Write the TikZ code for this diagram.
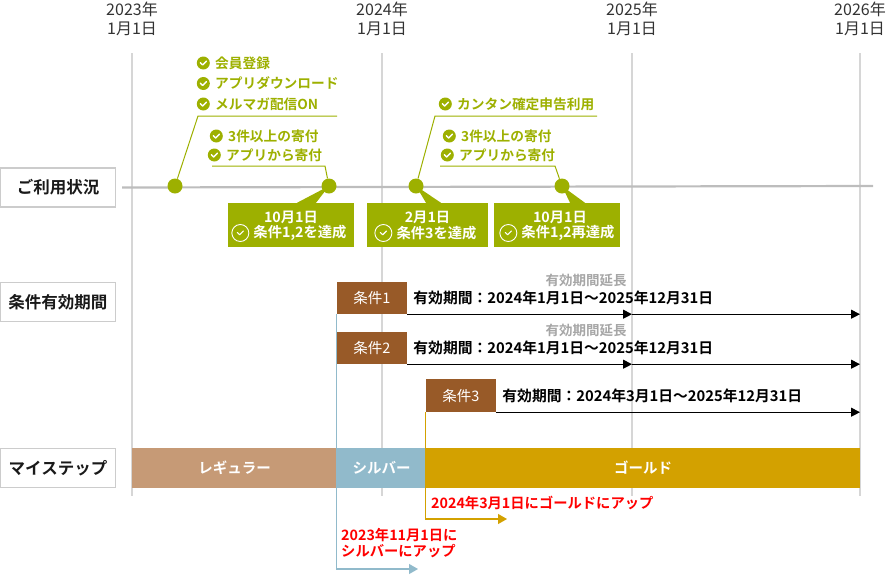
\documentclass[tikz,border=0pt]{standalone}
\usepackage{fontspec}
\setmainfont{Noto Sans CJK JP}[BoldFont={Noto Sans CJK JP Bold}]
\usetikzlibrary{positioning,arrows.meta}

\definecolor{ugreen}{HTML}{9DB000}
\definecolor{vgrey}{HTML}{D6D6D6}
\definecolor{tgrey}{HTML}{BDBDBD}
\definecolor{cbrown}{HTML}{985A28}
\definecolor{sreg}{HTML}{C69A76}
\definecolor{ssilver}{HTML}{91BACB}
\definecolor{sgold}{HTML}{D3A100}
\definecolor{upred}{HTML}{FF0000}

\tikzset{
  rowlabel/.style={draw=black!20, line width=1.2pt, minimum width=115, minimum height=39,
    inner sep=0pt, text=black!90, font=\bfseries\fontsize{16.5}{16.5}\selectfont},
  year/.style={align=center, text=black!80, font=\fontsize{16}{19}\selectfont},
  vline/.style={draw=vgrey, line width=2pt},
  tline/.style={draw=tgrey, line width=2.2pt},
  dot/.style={circle, fill=ugreen, inner sep=0pt, minimum size=15pt},
  callout/.style={draw=ugreen, line width=1pt},
  item/.style={anchor=west, inner sep=0pt, text=ugreen, font=\bfseries\fontsize{13.7}{13.7}\selectfont},
  chk/.style={circle, fill=ugreen, inner sep=0pt, minimum size=13pt,
    path picture={\draw[white, line width=1.4pt, line cap=round, line join=round]
      ([xshift=-3pt,yshift=0.3pt]path picture bounding box.center) -- ++(2.3pt,-2.3pt) -- ++(3.8pt,3.8pt);}},
  wchk/.style={circle, draw=white, line width=0.9pt, inner sep=0pt, minimum size=17pt,
    path picture={\draw[white, line width=1.1pt, line cap=round, line join=round]
      ([xshift=-3pt,yshift=0.5pt]path picture bounding box.center) -- ++(2.3pt,-2.3pt) -- ++(3.8pt,3.8pt);}},
  gbox/.style={fill=ugreen, minimum height=44, inner sep=0pt},
  gtxt/.style={inner sep=0pt, text=white, font=\bfseries\fontsize{14.3}{14.3}\selectfont},
  cbox/.style={fill=cbrown, text=white, minimum width=70, minimum height=32, inner sep=0pt,
    font=\fontsize{14.5}{14.5}\selectfont},
  period/.style={inner sep=0pt, font=\bfseries\fontsize{14.8}{14.8}\selectfont},
  ext/.style={inner sep=0pt, text=black!35, font=\bfseries\fontsize{13.5}{13.5}\selectfont},
  arr/.style={draw=black, line width=1.2pt, -{Triangle[length=9pt,width=9pt]}},
  stepbar/.style={anchor=west, minimum height=40, inner sep=0pt, outer sep=0pt, text=white,
    font=\bfseries\fontsize{14.5}{14.5}\selectfont},
  upline/.style={line width=1.2pt, -{Triangle[length=9pt,width=10pt]}},
  uptxt/.style={inner sep=0pt, text=upred, align=left, font=\bfseries\fontsize{14.3}{16.5}\selectfont},
}

\begin{document}
\begin{tikzpicture}[x=1pt,y=-1pt]
\useasboundingbox (0,0) rectangle (892,574);

% years
\foreach \yr/\x in {2023/132,2024/382,2025/632,2026/860}{
  \coordinate (v\yr) at (\x,53);
  \draw[vline] (v\yr) -- ++(0,443);
  \node[year] (y\yr) at (\x,18.5) {\yr 年\\1月1日};
}

% row labels
\node[rowlabel] (u1) at (58,187.5) {ご利用状況};
\node[rowlabel] (u2) at (58,302) {条件有効期間};
\node[rowlabel] (u3) at (58,468) {マイステップ};

% usage timeline
\coordinate (tend) at (873,186);
\draw[tline] ([xshift=6pt]u1.east) -- (tend);

\coordinate (k1) at (198,116);
\coordinate (k2) at (212,166);
\coordinate (k3) at (435,116);
\coordinate (k4) at (440,166);

\node[dot] (d1) at (175,186) {};
\node[dot] (d2) at (329,186) {};
\node[dot] (d3) at (416,186) {};
\node[dot] (d4) at (562,186) {};

\draw[callout] (d1) -- (k1) -- ++(139,0);
\draw[callout] (k2) -- ++(113,0) -- (d2);
\draw[callout] (d3) -- (k3) -- ++(162,0);
\draw[callout] (k4) -- ++(115,0) -- (d4);

\node[item] (a1) at (215,63) {会員登録};
\node[item] (a2) at (215,83.5) {アプリダウンロード};
\node[item] (a3) at (215,104) {メルマガ配信ON};
\node[item] (a4) at (228,136) {3件以上の寄付};
\node[item] (a5) at (226,155) {アプリから寄付};
\node[item] (a6) at (457,104) {カンタン確定申告利用};
\node[item] (a7) at (461,136) {3件以上の寄付};
\node[item] (a8) at (459,155) {アプリから寄付};
\foreach \i in {1,...,8}{
  \node[chk, left=5pt of a\i] {};
}

% achievement boxes
\node[gbox, minimum width=126] (b1) at (291,225) {};
\node[gbox, minimum width=121] (b2) at (427.5,225) {};
\node[gbox, minimum width=126] (b3) at (557,225) {};
\fill[ugreen] ([xshift=6pt]b1.north) -- ([xshift=25pt]b1.north) -- (d2.center) -- cycle;
\fill[ugreen] ([xshift=-1.5pt]b2.north) -- ([xshift=13.5pt]b2.north) -- (d3.center) -- cycle;
\fill[ugreen] ([xshift=13pt]b3.north) -- ([xshift=28pt]b3.north) -- (d4.center) -- cycle;

\node[gtxt] at ([yshift=8pt]b1.center) {10月1日};
\node[gtxt] (b1t) at ([xshift=9pt,yshift=-8pt]b1.center) {条件1,2を達成};
\node[wchk, left=4pt of b1t] {};
\node[gtxt] at ([yshift=8pt]b2.center) {2月1日};
\node[gtxt] (b2t) at ([xshift=9pt,yshift=-8pt]b2.center) {条件3を達成};
\node[wchk, left=4pt of b2t] {};
\node[gtxt] at ([xshift=3pt,yshift=8pt]b3.center) {10月1日};
\node[gtxt] (b3t) at ([xshift=11pt,yshift=-8pt]b3.center) {条件1,2再達成};
\node[wchk, left=4pt of b3t] {};

% condition periods
\node[cbox] (c1) at (372,298) {条件1};
\node[cbox] (c2) at (372,348) {条件2};
\node[cbox, minimum height=33] (c3) at (461,395.5) {条件3};

\node[period, right=6pt of c1] (p1) {有効期間：2024年1月1日～2025年12月31日};
\node[period, right=6pt of c2] (p2) {有効期間：2024年1月1日～2025年12月31日};
\node[period, right=6pt of c3] (p3) {有効期間：2024年3月1日～2025年12月31日};
\node[ext] (e1) at (586,280) {有効期間延長};
\node[ext] (e2) at (586,330) {有効期間延長};

\draw[arr] (c1.south east) -- (c1.south east -| v2025);
\draw[arr] (c1.south east -| v2025) -- (c1.south east -| v2026);
\draw[arr] (c2.south east) -- (c2.south east -| v2025);
\draw[arr] (c2.south east -| v2025) -- (c2.south east -| v2026);
\draw[arr] (c3.south east) -- (c3.south east -| v2026);

% my step
\node[stepbar, fill=sreg, minimum width=205] (s1) at (132,468) {レギュラー};
\node[stepbar, fill=ssilver, minimum width=89, right=0pt of s1] (s2) {シルバー};
\node[stepbar, fill=sgold, minimum width=434, right=0pt of s2] (s3) {ゴールド};

\coordinate (sv) at (418,569);
\coordinate (gd) at (507,519);
\draw[upline, draw=ssilver] (c1.south west) |- (sv);
\draw[upline, draw=sgold] (c3.south west) |- (gd);

\node[uptxt, anchor=west] (r1) at (431,503) {2024年3月1日にゴールドにアップ};
\node[uptxt, anchor=north west] (r2) at (341,528) {2023年11月1日に\\シルバーにアップ};
\end{tikzpicture}
\end{document}
